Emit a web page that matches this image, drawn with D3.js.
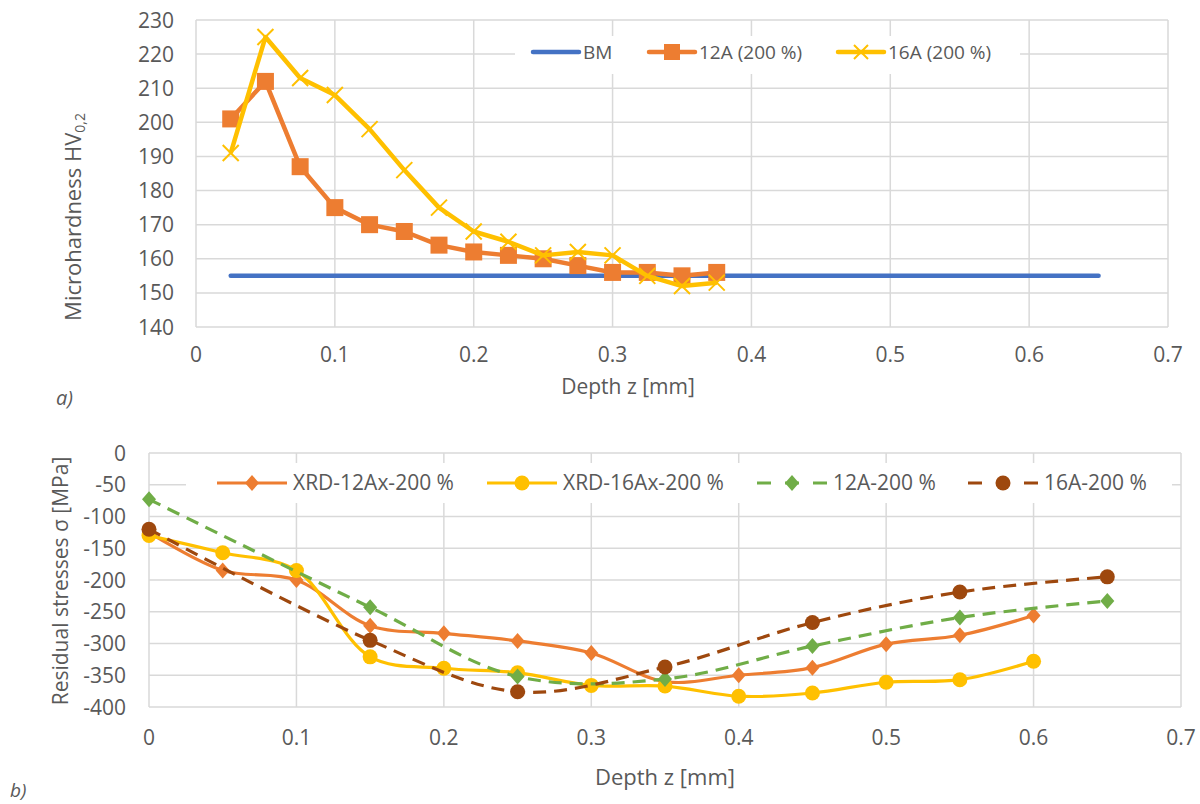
<!DOCTYPE html>
<html>
<head>
<meta charset="utf-8">
<script src="https://cdn.jsdelivr.net/npm/d3@7"></script>
<style>
  body { margin: 0; background: #fff; }
  svg text { font-family: "Open Sans", sans-serif; fill: #595959; }
</style>
</head>
<body>
<svg id="chart" width="1200" height="804"></svg>
<script>
// ---- chart a) microhardness
const depthA = [0.025, 0.05, 0.075, 0.1, 0.125, 0.15, 0.175, 0.2, 0.225, 0.25, 0.275, 0.3, 0.325, 0.35, 0.375];
const hv12A = [201, 212, 187, 175, 170, 168, 164, 162, 161, 160, 158, 156, 156, 155, 156];
const hv16A = [191, 225, 213, 208, 198, 186, 175, 168, 165, 161, 162, 161, 155, 152, 153];
const bmDepth = [0.025, 0.65];
const bmHV = [155, 155];
const hvTicks = [140, 150, 160, 170, 180, 190, 200, 210, 220, 230];

// ---- chart b) residual stresses
const depthXRD = [0, 0.05, 0.1, 0.15, 0.2, 0.25, 0.3, 0.35, 0.4, 0.45, 0.5, 0.55, 0.6];
const xrd12A = [-125, -185, -200, -272, -284, -296, -315, -360, -350, -338, -301, -287, -256];
const xrd16A = [-130, -157, -185, -321, -339, -346, -366, -367, -383, -378, -361, -357, -328];
const depthSim = [0, 0.15, 0.25, 0.35, 0.45, 0.55, 0.65];
const sim12A = [-73, -243, -352, -356, -304, -259, -233];
const sim16A = [-120, -295, -376, -337, -267, -219, -195];
const sigmaTicks = [0, -50, -100, -150, -200, -250, -300, -350, -400];
const depthTicks = [0, 0.1, 0.2, 0.3, 0.4, 0.5, 0.6, 0.7];

const svg = d3.select('#chart');
const grid = '#d9d9d9';

function frame(g, x, y, yTicks, labelX) {
	g.append('g').selectAll('line.h')
		.data(yTicks).enter().append('line')
		.attr('x1', x.range()[0]).attr('x2', x.range()[1])
		.attr('y1', d => y(d)).attr('y2', d => y(d))
		.style('stroke', grid).style('stroke-width', 1.5);
	g.append('g').selectAll('line.v')
		.data(depthTicks).enter().append('line')
		.attr('x1', d => x(d)).attr('x2', d => x(d))
		.attr('y1', y.range()[0]).attr('y2', y.range()[1])
		.style('stroke', grid).style('stroke-width', 1.5);
	g.append('g').selectAll('text')
		.data(yTicks).enter().append('text')
		.attr('x', labelX).attr('y', d => y(d) + 7.5)
		.attr('text-anchor', 'end').style('font-size', '21px')
		.text(d => d);
}

function xLabels(g, x, ly) {
	g.append('g').selectAll('text')
		.data(depthTicks).enter().append('text')
		.attr('x', d => x(d)).attr('y', ly)
		.attr('text-anchor', 'middle').style('font-size', '21px')
		.text(d => d);
}

function legendBox(g, x0, y0, w, h) {
	g.append('rect').attr('x', x0).attr('y', y0).attr('width', w).attr('height', h)
		.attr('fill', '#fff');
}

// ===== a)
const xa = d3.scaleLinear().domain([0, 0.7]).range([196, 1168]);
const ya = d3.scaleLinear().domain([140, 230]).range([327, 20]);
const ga = svg.append('g');
frame(ga, xa, ya, hvTicks, 174);
xLabels(ga, xa, 362);
ga.append('text').attr('x', 628).attr('y', 394).attr('text-anchor', 'middle')
	.style('font-size', '21px').text('Depth z [mm]');
const ta = ga.append('text').attr('transform', 'translate(81,217) rotate(-90)')
	.attr('text-anchor', 'middle').style('font-size', '22px');
ta.append('tspan').text('Microhardness HV');
ta.append('tspan').attr('baseline-shift', '-30%').style('font-size', '14px').text('0,2');
ga.append('text').attr('x', 56).attr('y', 405).style('font-size', '20px')
	.style('font-style', 'italic').text('a)');

legendBox(ga, 515, 36, 505, 38);

const lineA = d3.line().x(d => xa(d[0])).y(d => ya(d[1]));
ga.append('path').datum(d3.zip(bmDepth, bmHV)).attr('d', lineA)
	.attr('fill', 'none').style('stroke', '#4472c4').style('stroke-width', 4.5).style('stroke-linecap', 'round');
ga.append('path').datum(d3.zip(depthA, hv12A)).attr('d', lineA)
	.attr('fill', 'none').style('stroke', '#ed7d31').style('stroke-width', 4.5).style('stroke-linejoin', 'round');
ga.append('g').selectAll('rect').data(d3.zip(depthA, hv12A)).enter().append('rect')
	.attr('x', d => xa(d[0]) - 8.5).attr('y', d => ya(d[1]) - 8.5)
	.attr('width', 17).attr('height', 17).attr('fill', '#ed7d31');
ga.append('path').datum(d3.zip(depthA, hv16A)).attr('d', lineA)
	.attr('fill', 'none').style('stroke', '#ffc000').style('stroke-width', 4.5).style('stroke-linejoin', 'round');
ga.append('g').selectAll('path').data(d3.zip(depthA, hv16A)).enter().append('path')
	.attr('d', 'M-8,-8L8,8M-8,8L8,-8')
	.attr('transform', d => `translate(${xa(d[0])},${ya(d[1])})`)
	.style('stroke', '#ffc000').style('stroke-width', 2);

// legend a)
const legA = [
	{ name: 'BM', color: '#4472c4', x: 533, mark: 'none' },
	{ name: '12A (200 %)', color: '#ed7d31', x: 649, mark: 'square' },
	{ name: '16A (200 %)', color: '#ffc000', x: 838, mark: 'x' }
];
legA.forEach(l => {
	ga.append('line').attr('x1', l.x).attr('x2', l.x + 46).attr('y1', 52).attr('y2', 52)
		.style('stroke', l.color).style('stroke-width', 4.5).style('stroke-linecap', 'round');
	if (l.mark === 'square') ga.append('rect').attr('x', l.x + 23 - 8).attr('y', 44).attr('width', 16).attr('height', 16).attr('fill', l.color);
	if (l.mark === 'x') ga.append('path').attr('d', 'M-7,-7L7,7M-7,7L7,-7').attr('transform', `translate(${l.x + 23},52)`)
		.style('stroke', l.color).style('stroke-width', 2);
	ga.append('text').attr('x', l.x + 50).attr('y', 59).style('font-size', '19px').text(l.name);
});

// ===== b)
const xb = d3.scaleLinear().domain([0, 0.7]).range([149, 1181]);
const yb = d3.scaleLinear().domain([-400, 0]).range([707, 453]);
const gb = svg.append('g');
frame(gb, xb, yb, sigmaTicks, 126);
xLabels(gb, xb, 745);
gb.append('text').attr('x', 665).attr('y', 785).attr('text-anchor', 'middle')
	.style('font-size', '22px').text('Depth z [mm]');
gb.append('text').attr('transform', 'translate(68,581) rotate(-90)')
	.attr('text-anchor', 'middle').style('font-size', '21px').text('Residual stresses σ [MPa]');
gb.append('text').attr('x', 10).attr('y', 797).style('font-size', '19px')
	.style('font-style', 'italic').text('b)');

legendBox(gb, 186, 463, 986, 40);

const lineB = d3.line().x(d => xb(d[0])).y(d => yb(d[1])).curve(d3.curveCatmullRom.alpha(0.5));
const series = [
	{ name: 'XRD-12Ax-200 %', x: depthXRD, y: xrd12A, color: '#ed7d31', dash: null, mark: 'diamond', lx: 217 },
	{ name: 'XRD-16Ax-200 %', x: depthXRD, y: xrd16A, color: '#ffc000', dash: null, mark: 'circle', lx: 487 },
	{ name: '12A-200 %', x: depthSim, y: sim12A, color: '#70ad47', dash: '13,8', mark: 'diamond', lx: 757 },
	{ name: '16A-200 %', x: depthSim, y: sim16A, color: '#9e480e', dash: '13,8', mark: 'circle', lx: 968 }
];
const diamond = 'M0,-8L7,0L0,8L-7,0Z';
series.forEach(s => {
	const pts = d3.zip(s.x, s.y);
	gb.append('path').datum(pts).attr('d', lineB).attr('fill', 'none')
		.style('stroke', s.color).style('stroke-width', 3.2)
		.style('stroke-dasharray', s.dash);
	if (s.mark === 'diamond') {
		gb.append('g').selectAll('path').data(pts).enter().append('path')
			.attr('d', diamond).attr('transform', d => `translate(${xb(d[0])},${yb(d[1])})`)
			.attr('fill', s.color);
	} else {
		gb.append('g').selectAll('circle').data(pts).enter().append('circle')
			.attr('cx', d => xb(d[0])).attr('cy', d => yb(d[1])).attr('r', 7.5)
			.attr('fill', s.color);
	}
	// legend entry
	gb.append('line').attr('x1', s.lx).attr('x2', s.lx + 70).attr('y1', 483).attr('y2', 483)
		.style('stroke', s.color).style('stroke-width', 3.2).style('stroke-dasharray', s.dash ? '14,14' : null);
	if (s.mark === 'diamond') gb.append('path').attr('d', diamond).attr('transform', `translate(${s.lx + 35},483)`).attr('fill', s.color);
	else gb.append('circle').attr('cx', s.lx + 35).attr('cy', 483).attr('r', 7.5).attr('fill', s.color);
	gb.append('text').attr('x', s.lx + 76).attr('y', 490).style('font-size', '21px').text(s.name);
});
</script>
</body>
</html>
